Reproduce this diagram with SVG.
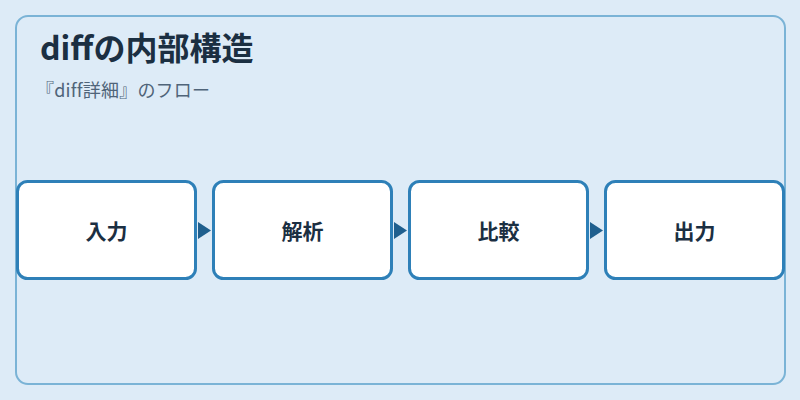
<svg xmlns="http://www.w3.org/2000/svg" width="800" height="400" viewBox="0 0 800 400">
  <style>
    .node rect { fill: #ffffff; stroke: #2e80b8; stroke-width: 3; }
    .node text { font-family: "Noto Sans CJK JP", "Noto Sans", sans-serif; font-size: 21px; font-weight: bold; fill: #1b2f42; text-anchor: middle; dominant-baseline: central; }
    .title { font-family: "Noto Sans CJK JP", "Noto Sans", sans-serif; font-size: 32px; font-weight: bold; fill: #1b2f42; }
    .subtitle { font-family: "Noto Sans CJK JP", "Noto Sans", sans-serif; font-size: 18px; fill: #4f6479; letter-spacing: 0.2px; }
    .arrow { fill: #1f5f8e; }
  </style>
  <rect x="0" y="0" width="800" height="400" fill="#ddebf7"/>
  <rect x="16" y="16" width="769" height="368" rx="12" ry="12" fill="#ddebf7" stroke="#7ab3d6" stroke-width="2"/>
  <text class="title" x="40" y="60">diffの内部構造</text>
  <text class="subtitle" x="36" y="97">『diff詳細』のフロー</text>
  <g id="connectors">
    <path class="arrow" d="M198,222 L211,230.5 L198,239 Z"/>
    <path class="arrow" d="M394,222 L407,230.5 L394,239 Z"/>
    <path class="arrow" d="M590,222 L603,230.5 L590,239 Z"/>
  </g>
  <g id="node-input" class="node">
    <rect x="17.5" y="181.5" width="178" height="97" rx="10" ry="10"/>
    <text x="106.5" y="230">入力</text>
  </g>
  <g id="node-parse" class="node">
    <rect x="213.5" y="181.5" width="178" height="97" rx="10" ry="10"/>
    <text x="302.5" y="230">解析</text>
  </g>
  <g id="node-compare" class="node">
    <rect x="409.5" y="181.5" width="178" height="97" rx="10" ry="10"/>
    <text x="498.5" y="230">比較</text>
  </g>
  <g id="node-output" class="node">
    <rect x="605.5" y="181.5" width="178" height="97" rx="10" ry="10"/>
    <text x="694.5" y="230">出力</text>
  </g>
</svg>
